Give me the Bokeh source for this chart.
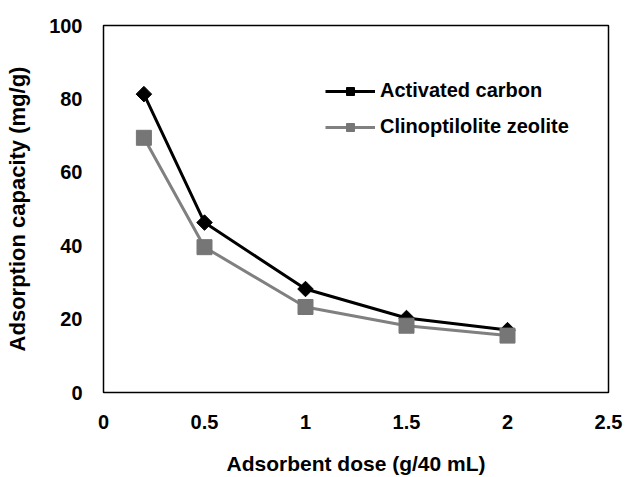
from bokeh.plotting import figure
from bokeh.models import Range1d, FixedTicker, Legend, LegendItem
from bokeh.embed import file_html
from bokeh.resources import INLINE

dose = [0.2, 0.5, 1.0, 1.5, 2.0]
activated_carbon = [81.3, 46.3, 28.2, 20.3, 17.0]
clinoptilolite = [69.4, 39.6, 23.3, 18.2, 15.5]
x_ticks = [0, 0.5, 1, 1.5, 2, 2.5]
x_tick_labels = {0: "0", 0.5: "0.5", 1: "1", 1.5: "1.5", 2: "2", 2.5: "2.5"}
y_ticks = [0, 20, 40, 60, 80, 100]

FONT = "Liberation Sans"

p = figure(width=627, height=477, output_backend="svg", toolbar_location=None,
           x_range=Range1d(0, 2.5), y_range=Range1d(0, 100),
           min_border_left=103, min_border_right=19, min_border_top=25, min_border_bottom=83)
p.xgrid.visible = False
p.ygrid.visible = False
p.outline_line_color = "black"
p.outline_line_width = 1.5
p.background_fill_color = "white"
p.border_fill_color = "white"

for ax in (p.xaxis, p.yaxis):
    ax.axis_line_color = None
    ax.major_tick_line_color = None
    ax.minor_tick_line_color = None
    ax.major_label_text_font = FONT
    ax.major_label_text_font_style = "bold"
    ax.major_label_text_font_size = "20px"
    ax.major_label_text_color = "black"
    ax.axis_label_text_font = FONT
    ax.axis_label_text_font_style = "bold"
    ax.axis_label_text_color = "black"

p.xaxis.axis_label_text_font_size = "21px"
p.yaxis.axis_label_text_font_size = "22px"
p.xaxis.ticker = FixedTicker(ticks=x_ticks)
p.xaxis.major_label_overrides = x_tick_labels
p.yaxis.ticker = FixedTicker(ticks=y_ticks)
p.xaxis.axis_label = "Adsorbent dose (g/40 mL)"
p.yaxis.axis_label = "Adsorption capacity (mg/g)"
p.xaxis.major_label_standoff = 16
p.yaxis.major_label_standoff = 15
p.xaxis.axis_label_standoff = 20
p.yaxis.axis_label_standoff = 16

l1 = p.line(dose, activated_carbon, line_color="black", line_width=3)
m1 = p.scatter(dose, activated_carbon, marker="square", angle=0.785398, size=11,
               fill_color="black", line_color="black")
l2 = p.line(dose, clinoptilolite, line_color="#808080", line_width=3)
m2 = p.scatter(dose, clinoptilolite, marker="square", size=15,
               fill_color="#767676", line_color="#767676")

legend = Legend(items=[LegendItem(label="Activated carbon", renderers=[l1, m1]),
                       LegendItem(label="Clinoptilolite zeolite", renderers=[l2, m2])],
                location=(222, 254), padding=0, margin=0, spacing=13,
                glyph_width=50, glyph_height=20, label_standoff=5,
                label_text_font=FONT, label_text_font_style="bold",
                label_text_font_size="20px", label_text_color="black",
                border_line_color=None, background_fill_alpha=0)
p.add_layout(legend)

open("out.html", "w").write(file_html(p, INLINE))
